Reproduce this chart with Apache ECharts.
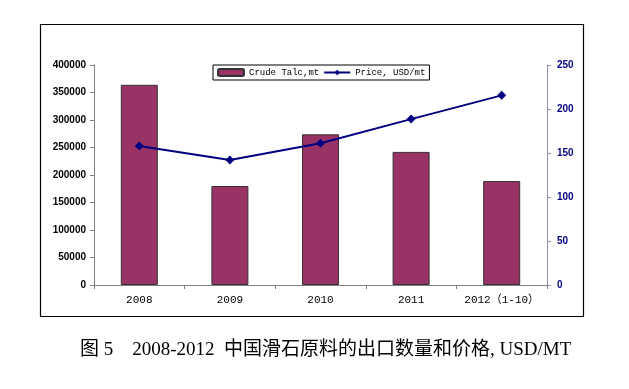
<!DOCTYPE html>
<html><head><meta charset="utf-8">
<script src="https://cdn.jsdelivr.net/npm/echarts@6/dist/echarts.min.js"></script>
<style>html,body{margin:0;padding:0;background:#fff;}#c{width:629px;height:389px;}</style>
</head><body><div id="c"></div>
<script>
const categories = ['2008', '2009', '2010', '2011', '2012（1-10）'];
const talcValues = [364000, 180000, 274000, 242000, 189000];
const priceValues = [158, 142, 161, 188.5, 215.5];
const leftTicks = [0, 400000, 50000];
const rightTicks = [0, 250, 50];
const caption = '图 5　2008-2012  中国滑石原料的出口数量和价格, USD/MT';

const chart = echarts.init(document.getElementById('c'));
chart.setOption({
  animation: false,
  backgroundColor: '#fff',
  graphic: [
    {type: 'rect', shape: {x: 40.5, y: 24.5, width: 543, height: 292}, style: {fill: 'none', stroke: '#000', lineWidth: 1.2}, z: -1},
    {type: 'text', left: 80, top: 341, style: {text: caption, font: '19px "Liberation Serif", "Noto Sans CJK SC"', fill: '#000'}}
  ],
  grid: {left: 94, right: 82, top: 65, bottom: 104},
  legend: {
    left: 213, top: 65, width: 217,
    borderColor: '#000', borderWidth: 1, padding: [3, 4, 3, 4],
    itemWidth: 26, itemHeight: 7, itemGap: 4,
    textStyle: {fontFamily: '"Liberation Mono", "DejaVu Sans Mono", monospace', fontSize: 9, color: '#000'},
    data: [{name: 'Crude Talc,mt'}, {name: 'Price, USD/mt'}]
  },
  xAxis: {
    type: 'category', data: categories,
    axisLine: {lineStyle: {color: '#808080'}},
    axisTick: {show: true, lineStyle: {color: '#808080'}, length: 4},
    axisLabel: {interval: 0, fontFamily: '"Liberation Mono", "Noto Sans CJK SC", monospace', fontSize: 11, color: '#000', margin: 10}
  },
  yAxis: [
    {
      type: 'value', min: leftTicks[0], max: leftTicks[1], interval: leftTicks[2],
      splitLine: {show: false},
      axisLine: {show: true, lineStyle: {color: '#808080'}},
      axisTick: {show: true, length: 4, lineStyle: {color: '#808080'}},
      axisLabel: {fontFamily: '"Liberation Sans", Arial', fontSize: 10, fontWeight: 'bold', color: '#000', margin: 8, formatter: v => String(v)}
    },
    {
      type: 'value', min: rightTicks[0], max: rightTicks[1], interval: rightTicks[2],
      splitLine: {show: false},
      axisLine: {show: true, lineStyle: {color: '#9090b0'}},
      axisTick: {show: true, length: 4, lineStyle: {color: '#9090b0'}},
      axisLabel: {fontFamily: '"Liberation Sans", Arial', fontSize: 10, fontWeight: 'bold', color: '#000080', margin: 10, formatter: v => String(v)}
    }
  ],
  series: [
    {
      name: 'Crude Talc,mt', type: 'bar', data: talcValues, barWidth: 37,
      itemStyle: {color: '#993366', borderColor: '#333', borderWidth: 1}
    },
    {
      name: 'Price, USD/mt', type: 'line', yAxisIndex: 1, data: priceValues,
      symbol: 'diamond', symbolSize: 9,
      lineStyle: {color: '#000080', width: 2},
      itemStyle: {color: '#000080'}
    }
  ]
});
</script></body></html>
